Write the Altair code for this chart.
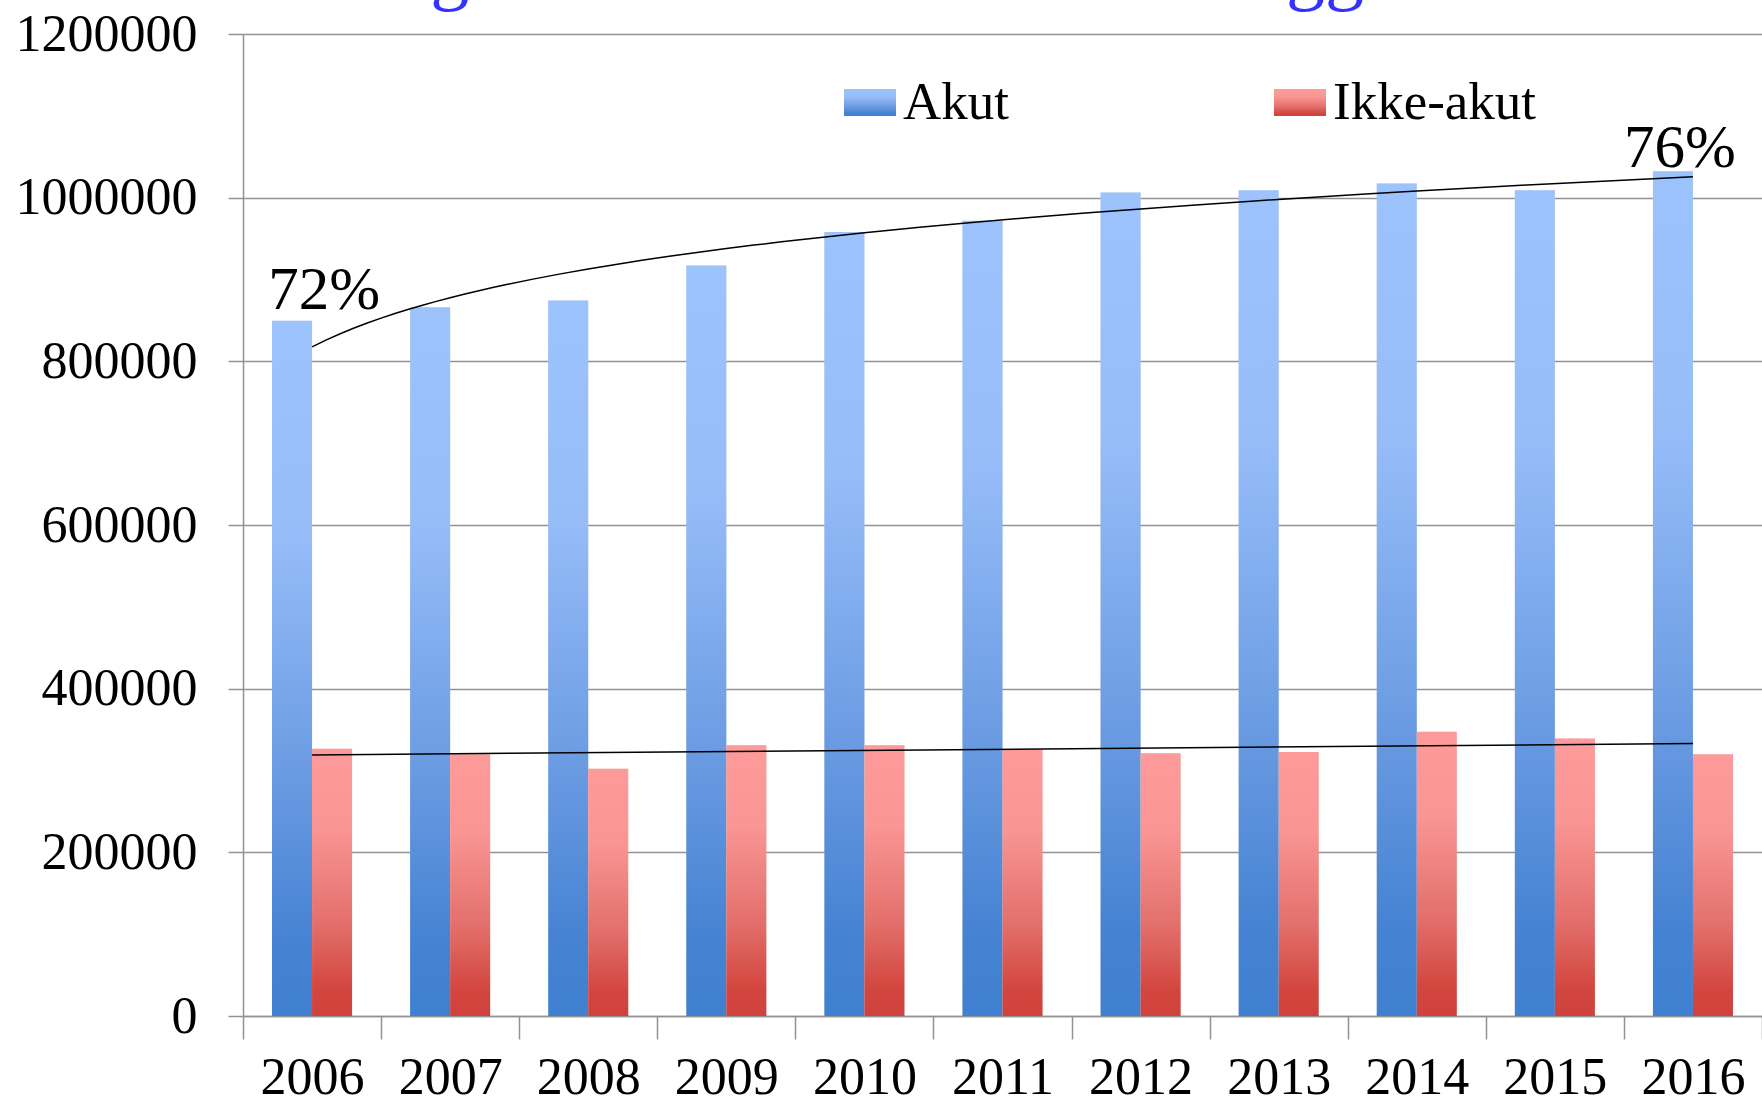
import altair as alt
import pandas as pd

# ---- data -------------------------------------------------------------
years = [str(y) for y in range(2006, 2017)]
akut = [849700, 866200, 874400, 917000, 958100, 971900,
        1006200, 1009000, 1017200, 1009000, 1032300]
ikke_akut = [326700, 319800, 302000, 330800, 330800, 325300,
             321200, 322600, 347300, 339100, 319800]
series = ["Akut", "Ikke-akut"]
y_ticks = [0, 200000, 400000, 600000, 800000, 1000000, 1200000]
title_text = "Udvikling i akutte/ikke-akutte indlæggelser"

wide = pd.DataFrame({"year": years, "idx": range(1, len(years) + 1),
                     "Akut": akut, "Ikke-akut": ikke_akut})
wide["share"] = wide["Akut"] / (wide["Akut"] + wide["Ikke-akut"])
wide["label"] = (wide["share"] * 100).round().astype(int).astype(str) + "%"
long = wide.melt(id_vars=["year", "idx"], value_vars=series,
                 var_name="series", value_name="value")
legend_df = pd.DataFrame({"series": series})
title_df = pd.DataFrame({"t": [title_text]})

FONT = "Liberation Serif"
GRID = "#929292"


def gradient(stops):
    return alt.LinearGradient(
        gradient="linear", x1=0, y1=0, x2=0, y2=1,
        stops=[alt.GradientStop(offset=o, color=c) for o, c in stops])


blue = gradient([(0, "#9dc3fd"), (0.3, "#97bdf9"), (0.65, "#6a9be2"),
                 (0.9, "#4582d2"), (1, "#4080d0")])
red = gradient([(0, "#fe9b9a"), (0.3, "#f99593"), (0.65, "#e3706c"),
                (0.9, "#d3463f"), (1, "#d0413d")])

# category bands touch each other so ticks fall between years;
# the gap around each bar pair comes from the offset scale's outer padding
x_year = alt.X("year:N",
               scale=alt.Scale(domain=years, paddingInner=0, paddingOuter=0),
               axis=alt.Axis(title=None, labelAngle=0, tickBand="extent",
                             tickSize=23, labelPadding=13, grid=False))
y_scale = alt.Scale(domain=[0, 1200000], nice=False, zero=True)
y_axis = alt.Axis(title=None, values=y_ticks, format="d", grid=True,
                  tickSize=15, labelPadding=31, labelLimit=0)
x_off = alt.XOffset("series:N", scale=alt.Scale(domain=series, paddingInner=0,
                                                paddingOuter=0.725))

# ---- bars -------------------------------------------------------------
def bar_layer(name, **mark):
    return alt.Chart(long).transform_filter(alt.datum.series == name).mark_bar(
        **mark).encode(x=x_year, xOffset=x_off,
                       y=alt.Y("value:Q", scale=y_scale, axis=y_axis))

shadow_akut = bar_layer("Akut", fill="#c8c8c8", opacity=0.55, xOffset=2.5)
shadow_ikke = bar_layer("Ikke-akut", fill="#c8c8c8", opacity=0.55, xOffset=2.5)
bars_akut = bar_layer("Akut", fill=blue)
bars_ikke = bar_layer("Ikke-akut", fill=red)

# ---- share labels on first and last year --------------------------------
def share_label(year, dx, dy):
    return alt.Chart(wide).transform_filter(alt.datum.year == year).mark_text(
        font=FONT, fontSize=61, color="black", align="center",
        baseline="alphabetic", dx=dx, dy=dy).encode(
        x=x_year, y=alt.Y("Akut:Q", scale=y_scale, axis=y_axis), text="label:N")

lab_first = share_label(years[0], 12, -12)
lab_last = share_label(years[-1], -13, -4)

# ---- legend -----------------------------------------------------------
def legend_item(name, fill, x0, x_text):
    d = alt.Chart(legend_df).transform_filter(alt.datum.series == name)
    sw = d.mark_rect(fill=fill).encode(
        x=alt.value(x0), x2=alt.value(x0 + 52), y=alt.value(55), y2=alt.value(82))
    tx = d.mark_text(font=FONT, fontSize=53, color="black", align="left",
                     baseline="alphabetic").encode(
        x=alt.value(x_text), y=alt.value(85), text="series:N")
    return sw + tx

leg_akut = legend_item("Akut", blue, 601, 660)
leg_ikke = legend_item("Ikke-akut", red, 1031, 1090)

# ---- heading (runs above the top edge) --------------------------------------
heading = alt.Chart(title_df).mark_text(
    font=FONT, fontSize=78, color="#3333ff", align="left",
    baseline="alphabetic").encode(x=alt.value(-90), y=alt.value(-39), text="t:N")

inner = alt.layer(shadow_akut, shadow_ikke, bars_akut, bars_ikke,
                  lab_first, lab_last, leg_akut, leg_ikke, heading)

# ---- trend lines ------------------------------------------------------
x_idx = alt.X("idx:Q", scale=alt.Scale(domain=[0.5, len(years) + 0.5],
                                       nice=False, zero=False), axis=None)
trend_akut = alt.Chart(long).transform_filter(alt.datum.series == "Akut").transform_regression(
    "idx", "value", method="log").mark_line(color="black", strokeWidth=1.5).encode(
    x=x_idx, y=alt.Y("value:Q", scale=y_scale, axis=y_axis))
trend_ikke = alt.Chart(long).transform_filter(alt.datum.series == "Ikke-akut").transform_regression(
    "idx", "value", method="linear").mark_line(color="black", strokeWidth=1.5).encode(
    x=x_idx, y=alt.Y("value:Q", scale=y_scale, axis=y_axis))

chart = alt.layer(inner, trend_akut + trend_ikke).resolve_scale(
    x="independent"
).properties(
    width=1519, height=982,
    padding={"left": 243, "top": 34, "right": 0, "bottom": 85},
    autosize=alt.AutoSizeParams(type="none"),
    background="white",
).configure_view(stroke=None).configure_axis(
    labelFont=FONT, labelFontSize=52, labelColor="black",
    domainColor=GRID, domainWidth=1.5, tickColor=GRID, tickWidth=1.5,
    gridColor=GRID, gridWidth=1.5, gridOpacity=1,
)

chart.save("out.html", embed_options={"renderer": "svg", "actions": False})
